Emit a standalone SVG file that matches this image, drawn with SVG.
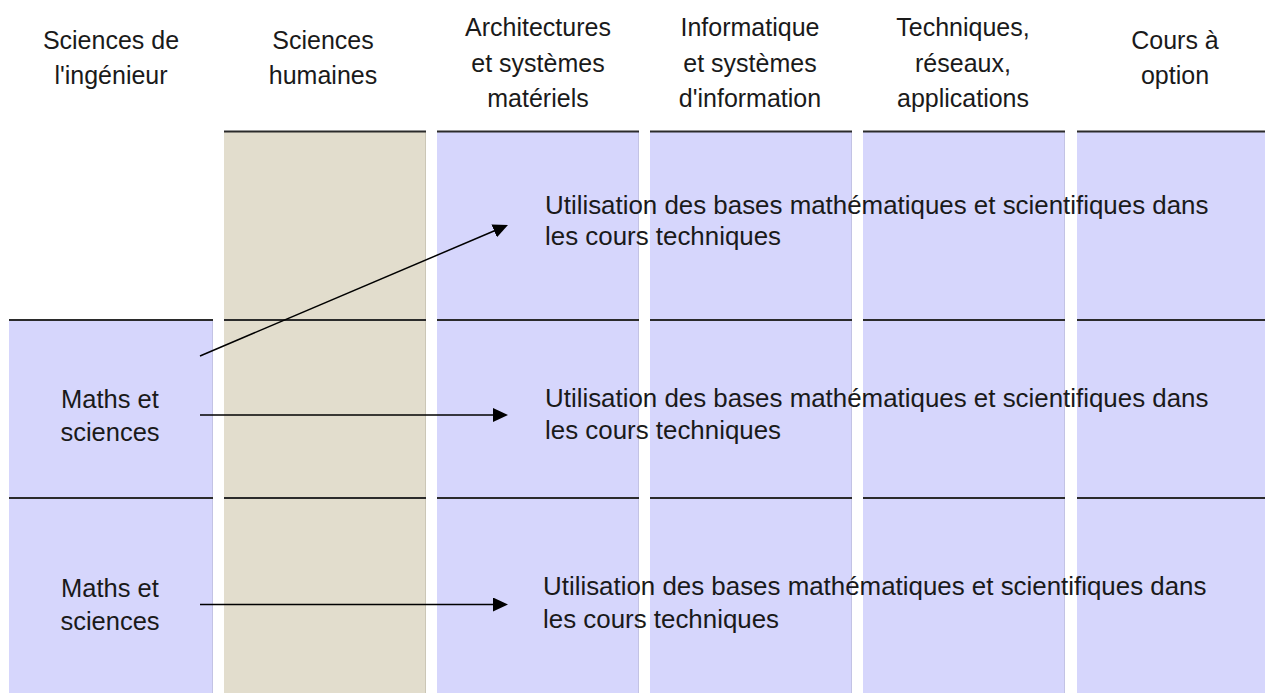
<svg xmlns="http://www.w3.org/2000/svg" width="1265" height="693" viewBox="0 0 1265 693">
  <style>
    text { font-family: "Liberation Sans", Arial, sans-serif; font-size: 25px; fill: #1a1a1a; }
    .hd { text-anchor: middle; }
    .mid { text-anchor: middle; font-size: 25.5px; }
    .use { font-size: 25.9px; }
    .lav { fill: #d6d6fc; }
    .bei { fill: #e2ddcd; }
    .edge-lav { stroke: #c3c3e4; stroke-width: 1; }
    .edge-bei { stroke: #cbc6b6; stroke-width: 1; }
    .rule { stroke: #2b2b2b; stroke-width: 2; }
    .conn { stroke: #000; stroke-width: 1.5; fill: none; marker-end: url(#head); }
  </style>
  <defs>
    <marker id="head" markerUnits="userSpaceOnUse" markerWidth="16" markerHeight="14" refX="1" refY="7" orient="auto">
      <path d="M0,0 L15,7 L0,14 z" fill="#000"/>
    </marker>
  </defs>

  <rect width="1265" height="693" fill="#ffffff"/>

  <!-- column bands -->
  <g id="columns">
    <rect class="lav" x="9" y="320" width="204" height="373"/>
    <line class="edge-lav" x1="212.5" y1="320" x2="212.5" y2="693"/>
    <rect class="bei" x="224" y="131" width="202" height="562"/>
    <line class="edge-bei" x1="425.5" y1="131" x2="425.5" y2="693"/>
    <rect class="lav" x="437" y="131" width="202" height="562"/>
    <line class="edge-lav" x1="638.5" y1="131" x2="638.5" y2="693"/>
    <rect class="lav" x="650" y="131" width="202" height="562"/>
    <line class="edge-lav" x1="851.5" y1="131" x2="851.5" y2="693"/>
    <rect class="lav" x="863" y="131" width="202" height="562"/>
    <line class="edge-lav" x1="1064.5" y1="131" x2="1064.5" y2="693"/>
    <rect class="lav" x="1077" y="131" width="188" height="562"/>
  </g>

  <!-- row rules, broken at the column gaps -->
  <g id="rules">
    <line class="rule" x1="224" y1="131.5" x2="426" y2="131.5"/>
    <line class="rule" x1="437" y1="131.5" x2="639" y2="131.5"/>
    <line class="rule" x1="650" y1="131.5" x2="852" y2="131.5"/>
    <line class="rule" x1="863" y1="131.5" x2="1065" y2="131.5"/>
    <line class="rule" x1="1077" y1="131.5" x2="1265" y2="131.5"/>

    <line class="rule" x1="9" y1="320" x2="213" y2="320"/>
    <line class="rule" x1="224" y1="320" x2="426" y2="320"/>
    <line class="rule" x1="437" y1="320" x2="639" y2="320"/>
    <line class="rule" x1="650" y1="320" x2="852" y2="320"/>
    <line class="rule" x1="863" y1="320" x2="1065" y2="320"/>
    <line class="rule" x1="1077" y1="320" x2="1265" y2="320"/>

    <line class="rule" x1="9" y1="498" x2="213" y2="498"/>
    <line class="rule" x1="224" y1="498" x2="426" y2="498"/>
    <line class="rule" x1="437" y1="498" x2="639" y2="498"/>
    <line class="rule" x1="650" y1="498" x2="852" y2="498"/>
    <line class="rule" x1="863" y1="498" x2="1065" y2="498"/>
    <line class="rule" x1="1077" y1="498" x2="1265" y2="498"/>
  </g>

  <!-- column headers -->
  <g id="hdr-ingenieur">
    <text class="hd" x="111" y="49">Sciences de</text>
    <text class="hd" x="111" y="83.5">l'ingénieur</text>
  </g>
  <g id="hdr-humaines">
    <text class="hd" x="323" y="49">Sciences</text>
    <text class="hd" x="323" y="83.5">humaines</text>
  </g>
  <g id="hdr-architectures">
    <text class="hd" x="538" y="36">Architectures</text>
    <text class="hd" x="538" y="71.5">et systèmes</text>
    <text class="hd" x="538" y="107">matériels</text>
  </g>
  <g id="hdr-informatique">
    <text class="hd" x="750" y="36">Informatique</text>
    <text class="hd" x="750" y="71.5">et systèmes</text>
    <text class="hd" x="750" y="107">d'information</text>
  </g>
  <g id="hdr-techniques">
    <text class="hd" x="963" y="36">Techniques,</text>
    <text class="hd" x="963" y="71.5">réseaux,</text>
    <text class="hd" x="963" y="107">applications</text>
  </g>
  <g id="hdr-option">
    <text class="hd" x="1175" y="49">Cours à</text>
    <text class="hd" x="1175" y="83.5">option</text>
  </g>

  <!-- source nodes -->
  <g id="maths-1">
    <text class="mid" x="110" y="408">Maths et</text>
    <text class="mid" x="110" y="441">sciences</text>
  </g>
  <g id="maths-2">
    <text class="mid" x="110" y="597">Maths et</text>
    <text class="mid" x="110" y="630">sciences</text>
  </g>

  <!-- target labels -->
  <g id="usage-1">
    <text class="use" x="545" y="214">Utilisation des bases mathématiques et scientifiques dans</text>
    <text class="use" x="545" y="245">les cours techniques</text>
  </g>
  <g id="usage-2">
    <text class="use" x="545" y="407">Utilisation des bases mathématiques et scientifiques dans</text>
    <text class="use" x="545" y="439">les cours techniques</text>
  </g>
  <g id="usage-3">
    <text class="use" x="543" y="595">Utilisation des bases mathématiques et scientifiques dans</text>
    <text class="use" x="543" y="628">les cours techniques</text>
  </g>

  <!-- connectors -->
  <g id="connectors">
    <line class="conn" x1="200" y1="356" x2="495.1" y2="230.5"/>
    <line class="conn" x1="200" y1="415" x2="494" y2="415"/>
    <line class="conn" x1="200" y1="604.5" x2="494" y2="604.5"/>
  </g>
</svg>
